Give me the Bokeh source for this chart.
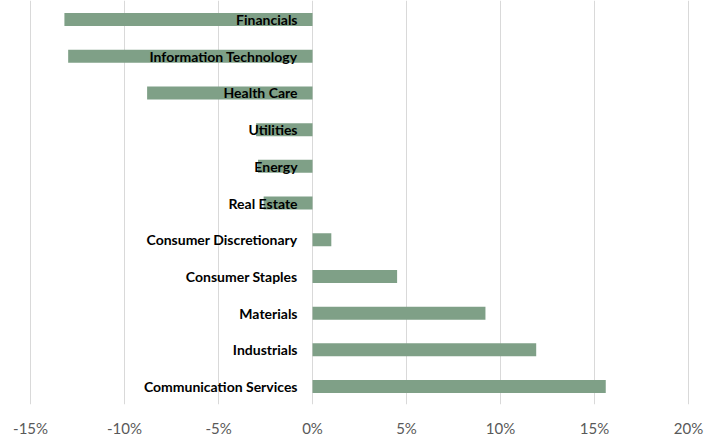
from bokeh.plotting import figure
from bokeh.models import Range1d, FixedTicker, ColumnDataSource
from bokeh.core.properties import value
from bokeh.embed import file_html
from bokeh.resources import INLINE

# Data (top to bottom as shown)
sectors = ["Financials", "Information Technology", "Health Care", "Utilities",
           "Energy", "Real Estate", "Consumer Discretionary", "Consumer Staples",
           "Materials", "Industrials", "Communication Services"]
returns = [-13.2, -13.0, -8.8, -3.0, -2.9, -2.6, 1.0, 4.5, 9.2, 11.9, 15.6]
ticks = [-15, -10, -5, 0, 5, 10, 15, 20]
tick_labels = ["-15%", "-10%", "-5%", "0%", "5%", "10%", "15%", "20%"]

n = len(sectors)
pos = [n - 1 - i for i in range(n)]

src = ColumnDataSource(dict(sector=sectors, ret=returns, y=pos,
                            zero=[0] * n))

p = figure(width=706, height=439, output_backend="svg", toolbar_location=None,
           x_range=Range1d(-16.60, 20.96), y_range=Range1d(-0.49, 10.52),
           y_axis_location=None, min_border_left=0, min_border_right=0,
           min_border_top=0, min_border_bottom=35)
p.outline_line_color = None
p.background_fill_color = "white"
p.border_fill_color = "white"

p.hbar(y="y", left="zero", right="ret", height=0.354, source=src,
       fill_color="#7FA087", line_color=None)

p.text(x="zero", y="y", text="sector", source=src, x_offset=-15,
       text_align="right", text_baseline="middle", text_font=value("Lato"),
       text_font_style="bold", text_font_size="14px", text_color="black")

p.xaxis.ticker = FixedTicker(ticks=ticks)
p.xaxis.major_label_overrides = {t: l for t, l in zip(ticks, tick_labels)}
p.xaxis.axis_line_color = None
p.xaxis.major_tick_line_color = None
p.xaxis.minor_tick_line_color = None
p.xaxis.major_tick_out = 0
p.xaxis.major_tick_in = 0
p.xaxis.major_label_standoff = 14
p.xaxis.major_label_text_font = "Lato"
p.xaxis.major_label_text_font_size = "15px"
p.xaxis.major_label_text_color = "#595959"

p.xgrid.ticker = FixedTicker(ticks=ticks)
p.xgrid.grid_line_color = "#D9D9D9"
p.xgrid.grid_line_width = 1
p.ygrid.grid_line_color = None

open("out.html", "w").write(file_html(p, INLINE))
